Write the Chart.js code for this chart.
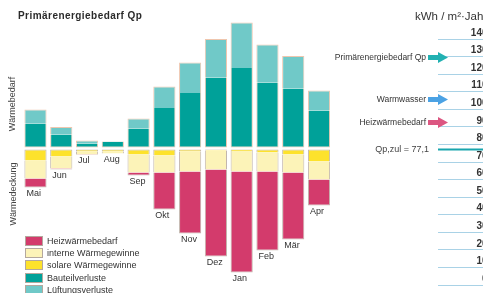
<!DOCTYPE html>
<html lang="de">
<head>
<meta charset="utf-8">
<title>Primärenergiebedarf Qp</title>
<script src="https://cdn.jsdelivr.net/npm/chart.js@4.4.1/dist/chart.umd.min.js"></script>
<style>
  html, body { margin: 0; padding: 0; width: 483px; height: 293px; overflow: hidden; background: #fff; }
  body { position: relative; font-family: "Liberation Sans", Arial, sans-serif; color: #333; }
  #balanceBox { position: absolute; left: 0; top: 0; width: 340px; height: 293px; }
  #scaleBox { position: absolute; left: 330px; top: 0; width: 170px; height: 293px; }
  .title { position: absolute; left: 18px; top: 10px; font-weight: bold; font-size: 10px; letter-spacing: 0.45px; white-space: nowrap; color: #2b2b2b; }
  .unit { position: absolute; left: 415px; top: 10px; font-size: 11.5px; white-space: nowrap; color: #333; }
  .side { position: absolute; font-size: 9px; white-space: nowrap; transform: translate(-50%, -50%) rotate(-90deg); color: #444; }
  #legend { position: absolute; left: 25px; top: 235px; font-size: 9px; color: #333; }
  #legend .row { display: flex; align-items: center; height: 12.2px; white-space: nowrap; }
  #legend .sw { width: 16px; height: 8px; border: 1px solid #b4a89e; margin-right: 4px; }
</style>
</head>
<body>
<div id="balanceBox"><canvas id="balance"></canvas></div>
<div id="scaleBox"><canvas id="scale"></canvas></div>
<div class="title">Primärenergiebedarf Qp</div>
<div class="unit">kWh / m²·Jahr</div>
<div class="side" style="left:12px; top:104px;">Wärmebedarf</div>
<div class="side" style="left:13px; top:194px;">Wärmedeckung</div>
<div id="legend"></div>

<script>
// months of the heating balance, May to April
const months = ['Mai', 'Jun', 'Jul', 'Aug', 'Sep', 'Okt', 'Nov', 'Dez', 'Jan', 'Feb', 'Mär', 'Apr'];

// Wärmebedarf (kWh/m² per month)
const bauteilverluste = [4.8, 2.6, 0.8, 1.1, 3.8, 7.9, 10.9, 14.0, 15.9, 13.0, 11.8, 7.4];
const lueftungsverluste = [2.8, 1.5, 0.6, 0.1, 2.0, 4.3, 6.1, 7.7, 9.1, 7.6, 6.5, 4.0];

// Wärmedeckung (drawn downwards)
const solareGewinne = [2.2, 1.4, 0.4, 0.4, 1.0, 1.2, 0.4, 0.2, 0.3, 0.6, 1.0, 2.4];
const interneGewinne = [3.6, 2.4, 0.6, 0.4, 3.6, 3.4, 4.0, 3.8, 4.1, 3.8, 3.6, 3.6];
const heizwaermebedarf = [1.8, 0.2, 0.1, 0.0, 0.6, 7.4, 12.4, 17.4, 20.2, 15.8, 13.4, 5.2];

// annual scale on the right (kWh / m²·Jahr)
const scaleMin = 0;
const scaleMax = 140;
const scaleStep = 10;
const markerLabels = ['Primärenergiebedarf Qp', 'Warmwasser', 'Heizwärmebedarf'];
const markerValues = [129.5, 105.5, 92.5];
const qpZul = 77.1;

const FONT = '"Liberation Sans", Arial, sans-serif';
Chart.defaults.font.family = FONT;

const colors = {
  bauteil: '#00a199',
  lueftung: '#70c9c8',
  solar: '#fde22c',
  intern: '#fcf3b8',
  heiz: '#d33b6c',
  upperBorder: '#efc6ae',
  lowerBorder: '#c2b6ad'
};
const markerColors = ['#22b1b2', '#4ba2e4', '#dc5681'];

// legend (order as in the picture)
const legendItems = [
  ['Heizwärmebedarf', colors.heiz],
  ['interne Wärmegewinne', colors.intern],
  ['solare Wärmegewinne', colors.solar],
  ['Bauteilverluste', colors.bauteil],
  ['Lüftungsverluste', colors.lueftung]
];
const legend = document.getElementById('legend');
legendItems.forEach(([name, col]) => {
  const row = document.createElement('div');
  row.className = 'row';
  const sw = document.createElement('span');
  sw.className = 'sw';
  sw.style.background = col;
  const txt = document.createElement('span');
  txt.textContent = name;
  row.appendChild(sw);
  row.appendChild(txt);
  legend.appendChild(row);
});

// month names under the end of each lower bar
const monthLabels = {
  id: 'monthLabels',
  afterDatasetsDraw(chart) {
    const ctx = chart.ctx;
    const metas = chart.getSortedVisibleDatasetMetas().filter(m => m.yAxisID === 'y2');
    ctx.save();
    ctx.fillStyle = '#333';
    ctx.font = '9px ' + FONT;
    ctx.textAlign = 'left';
    ctx.textBaseline = 'middle';
    months.forEach((m, i) => {
      let bottom = -Infinity, left = 0;
      metas.forEach(meta => {
        const el = meta.data[i];
        bottom = Math.max(bottom, el.y, el.base);
        left = el.x - el.width / 2;
      });
      ctx.fillText(m, left + 2, bottom + 6);
    });
    ctx.restore();
  }
};

const upper = (label, data, bg, bw) => ({
  label, data, backgroundColor: bg, borderColor: colors.upperBorder,
  borderWidth: bw, borderSkipped: false, yAxisID: 'y', stack: 'all'
});
const lower = (label, data, bg, bw) => ({
  label, data: data.map(v => -v), backgroundColor: bg, borderColor: colors.lowerBorder,
  borderWidth: bw, borderSkipped: false, yAxisID: 'y2', stack: 'all'
});

new Chart(document.getElementById('balance'), {
  type: 'bar',
  data: {
    labels: months,
    datasets: [
      upper('Bauteilverluste', bauteilverluste, colors.bauteil, { left: 1, right: 1, top: 0, bottom: 1 }),
      upper('Lüftungsverluste', lueftungsverluste, colors.lueftung, { left: 1, right: 1, top: 1, bottom: 0 }),
      lower('solare Wärmegewinne', solareGewinne, colors.solar, { left: 1, right: 1, top: 1, bottom: 0 }),
      lower('interne Wärmegewinne', interneGewinne, colors.intern, { left: 1, right: 1, top: 0, bottom: 0 }),
      lower('Heizwärmebedarf', heizwaermebedarf, colors.heiz, { left: 1, right: 1, top: 0, bottom: 1 })
    ]
  },
  options: {
    responsive: true,
    maintainAspectRatio: false,
    animation: false,
    layout: { padding: { left: 22.6, right: 8.1, top: 0, bottom: 0 } },
    datasets: { bar: { barPercentage: 0.86, categoryPercentage: 1 } },
    plugins: { legend: { display: false }, tooltip: { enabled: false } },
    scales: {
      x: { display: false, stacked: true },
      y: { display: false, stacked: true, min: -29.1, max: 29.5 },
      y2: { display: false, stacked: true, min: -28.7, max: 29.9 }
    }
  },
  plugins: [monthLabels]
});

// arrows and the Qp,zul line on the annual scale
const markers = {
  id: 'markers',
  afterDraw(chart) {
    const { ctx, chartArea } = chart;
    const y = chart.scales.y;
    const L = chartArea.left;
    ctx.save();
    ctx.textAlign = 'right';
    ctx.textBaseline = 'middle';

    const yz = y.getPixelForValue(qpZul);
    ctx.strokeStyle = '#18a5ad';
    ctx.lineWidth = 2;
    ctx.beginPath();
    ctx.moveTo(L, yz);
    ctx.lineTo(chartArea.right, yz);
    ctx.stroke();
    ctx.fillStyle = '#444';
    ctx.font = '9px ' + FONT;
    ctx.fillText('Qp,zul = ' + String(qpZul).replace('.', ','), L - 9, yz);

    markerValues.forEach((v, i) => {
      const py = y.getPixelForValue(v);
      ctx.fillStyle = markerColors[i];
      ctx.beginPath();
      ctx.moveTo(L - 10, py - 2.5);
      ctx.lineTo(L, py - 2.5);
      ctx.lineTo(L, py - 5.5);
      ctx.lineTo(L + 10, py);
      ctx.lineTo(L, py + 5.5);
      ctx.lineTo(L, py + 2.5);
      ctx.lineTo(L - 10, py + 2.5);
      ctx.closePath();
      ctx.fill();
      ctx.fillStyle = '#333';
      ctx.font = '8.5px ' + FONT;
      ctx.fillText(markerLabels[i], L - 12, py);
    });
    ctx.restore();
  }
};

new Chart(document.getElementById('scale'), {
  type: 'bar',
  data: { labels: [''], datasets: [] },
  options: {
    responsive: true,
    maintainAspectRatio: false,
    animation: false,
    layout: { padding: { left: 108, right: 10.5, top: 39, bottom: 2 } },
    plugins: {
      legend: { display: false },
      tooltip: { enabled: false }
    },
    scales: {
      x: { display: false },
      y: {
        position: 'right',
        min: scaleMin,
        max: scaleMax,
        ticks: {
          stepSize: scaleStep,
          mirror: true,
          padding: 2,
          labelOffset: -6,
          color: '#333',
          font: { size: 10, weight: 'bold' }
        },
        grid: { color: '#a9d2e6', drawTicks: false },
        border: { display: false }
      }
    }
  },
  plugins: [markers]
});
</script>
</body>
</html>
